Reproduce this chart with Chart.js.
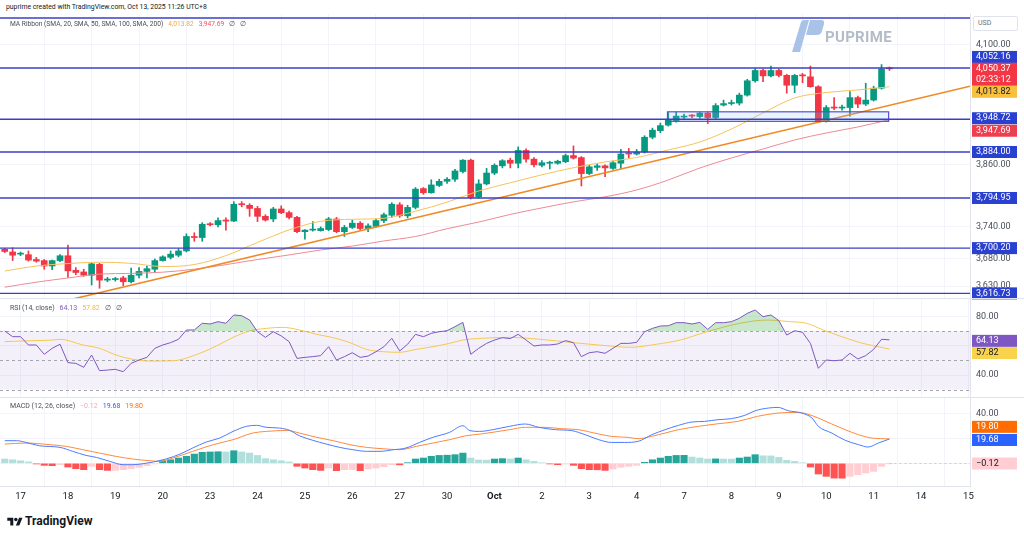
<!DOCTYPE html>
<html>
<head>
<meta charset="utf-8">
<script src="https://cdn.jsdelivr.net/npm/chart.js@4.4.1/dist/chart.umd.min.js"></script>
<style>
  body { margin:0; width:1024px; height:539px; background:#fff; position:relative; overflow:hidden;
         font-family:Roboto, "Liberation Sans", sans-serif; color:#131722; }
  canvas { position:absolute; left:0; }
  .txt { position:absolute; white-space:nowrap; }
  .leg { left:10px; font-size:7px; color:#4a4e59; }
  .leg span { margin-left:5px; }
  .sep { position:absolute; left:0; width:1024px; height:1px; background:#e0e3eb; }
</style>
</head>
<body>
<canvas id="cPrice" width="1024" height="286" style="top:14px"></canvas>
<canvas id="cRsi" width="1024" height="99" style="top:298px"></canvas>
<canvas id="cMacd" width="1024" height="111" style="top:397px"></canvas>
<div class="sep" style="top:298px"></div>
<div class="sep" style="top:397px"></div>

<div class="txt" style="left:6px;top:3px;font-size:6.85px;color:#131722">puprime created with TradingView.com, Oct 13, 2025 11:26 UTC+8</div>
<div class="txt leg" style="top:20px;font-size:6.65px">MA Ribbon (SMA, 20, SMA, 50, SMA, 100, SMA, 200)<span style="color:#f2a93b">4,013.82</span><span style="color:#f0505c">3,947.69</span><span>∅</span><span>∅</span></div>
<div class="txt leg" style="top:304px">RSI (14, close)<span style="color:#7e57c2">64.13</span><span style="color:#f2b83b">57.82</span><span>∅</span><span>∅</span></div>
<div class="txt leg" style="top:402px">MACD (12, 26, close)<span style="color:#f7a8b8">−0.12</span><span style="color:#2962ff">19.68</span><span style="color:#ff6d00">19.80</span></div>

<div class="txt" style="left:973px;top:16px;width:43px;height:13px;border:1px solid #e0e3eb;border-radius:2px;font-size:7px;color:#6a6d78;line-height:13px;text-indent:4px;background:#fff">USD</div>

<svg class="txt" style="left:790px;top:19px" width="36" height="34" viewBox="0 0 36 34">
  <path d="M2 33 L11 3 Q12 1 14 1 L19 1 L10 33 Z" fill="#a9c3e8"/>
  <path d="M20 1 L31 1 Q35 1 34 5 L32 12 Q31 16 27 16 L16 16 Z" fill="#a9c3e8"/>
</svg>
<div class="txt" style="left:825px;top:28px;font-size:15px;font-weight:bold;color:#b3bcc8;letter-spacing:0.3px">PUPRIME</div>

<svg class="txt" style="left:7px;top:516px" width="16" height="12" viewBox="0 0 36 28">
  <path d="M14 22H7V11H0V4h14v18zM28 22h-8l7.5-18h8L28 22z" fill="#131722"/>
  <circle cx="20" cy="8" r="4" fill="#131722"/>
</svg>
<div class="txt" style="left:25px;top:514px;font-size:12px;font-weight:bold;color:#131722">TradingView</div>

<script>
// ---- data (4h candles, index 0 = first candle on the left)
const dayLabels = ['17','18','19','20','23','24','25','26','27','30','Oct','2','3','4','7','8','9','10','11','14','15'];
const FIRST_DAY_CANDLE = 2;
const CANDLES_PER_DAY = 6;

const open = [3698,3693,3689,3688,3679,3677,3667,3677,3686,3659,3656,3650,3670,3641,3642,3645,3638,3650,3657,3661,
  3677,3683,3687,3695,3722,3720,3746,3744,3753,3751,3784,3781,3775,3760,3755,3774,3767,3758,3731,3734,
  3733,3735,3755,3731,3739,3747,3737,3741,3752,3762,3782,3761,3777,3813,3805,3819,3827,3831,3846,3868,
  3797,3822,3843,3857,3868,3862,3887,3870,3858,3862,3862,3865,3877,3873,3842,3854,3857,3852,3862,3882,
  3880,3884,3913,3926,3937,3946,3953,3956,3954,3961,3952,3977,3980,3981,3997,4026,4047,4036,4047,4037,
  4017,4038,4034,4014,3945,3973,3971,3972,3992,3979,3987,4011,4051];
const high = [3700,3701,3693,3695,3683,3679,3678,3688,3706,3664,3661,3672,3672,3646,3646,3648,3663,3664,3667,3680,
  3686,3695,3699,3727,3729,3748,3748,3757,3757,3788,3788,3784,3779,3763,3777,3780,3770,3760,3735,3750,
  3740,3758,3758,3743,3753,3750,3746,3755,3766,3786,3786,3781,3815,3815,3830,3831,3834,3850,3869,3870,
  3830,3852,3861,3869,3872,3894,3890,3873,3867,3866,3868,3880,3896,3875,3858,3861,3859,3866,3889,3891,
  3889,3916,3931,3941,3962,3963,3959,3958,3963,3963,3980,3987,3987,4001,4029,4051,4050,4056,4050,4039,
  4039,4041,4056,4016,3976,3992,3977,4004,3995,4021,4015,4059,4054];
const low = [3692,3677,3686,3676,3674,3661,3660,3675,3646,3651,3648,3632,3626,3638,3639,3631,3636,3645,3645,3655,
  3676,3680,3684,3693,3713,3713,3742,3740,3734,3750,3778,3760,3750,3751,3750,3765,3755,3729,3717,3732,
  3732,3733,3729,3722,3737,3734,3731,3739,3748,3758,3758,3757,3774,3802,3804,3817,3823,3827,3843,3793,
  3795,3820,3840,3853,3853,3853,3864,3855,3855,3851,3860,3863,3870,3818,3840,3848,3836,3850,3852,3872,
  3878,3882,3910,3922,3935,3943,3950,3952,3951,3940,3950,3975,3977,3977,3995,4023,4024,4034,4034,4001,
  4002,4022,4013,3942,3943,3968,3967,3955,3972,3976,3985,4009,4047];
const close = [3694,3687,3690,3678,3676,3667,3677,3686,3658,3655,3650,3671,3641,3643,3643,3638,3650,3657,3662,3677,
  3684,3689,3695,3722,3720,3745,3744,3752,3751,3783,3782,3775,3760,3753,3774,3767,3758,3731,3734,3735,
  3737,3755,3731,3739,3747,3737,3742,3752,3763,3783,3761,3777,3812,3805,3820,3827,3831,3847,3868,3796,
  3822,3843,3858,3867,3862,3887,3870,3859,3863,3863,3866,3877,3872,3842,3855,3857,3853,3863,3880,3880,
  3884,3913,3927,3936,3948,3955,3955,3955,3961,3952,3976,3980,3982,3997,4026,4047,4036,4047,4037,4017,
  4037,4036,4014,3945,3972,3971,3973,3992,3979,3987,4011,4050,4050.37];

// MA ribbon, sampled every 4 candles
const maIdx = [0,4,8,12,16,20,24,28,32,36,40,44,48,52,56,60,64,68,72,76,80,84,88,92,96,100,104,108,112];
const sma20 = [3657.7,3667,3671.5,3674,3672,3666,3669.7,3686.3,3710.8,3734.4,3750.6,3754.4,3756.3,3769.7,3787,
  3808.4,3824.2,3839.5,3853.3,3864.5,3873.2,3888,3903.6,3929.3,3961.3,3991.3,4002.3,4007.4,4013.82];
const sma50 = [3628,3637.2,3644.9,3652,3653.4,3655.6,3661.1,3669.5,3679,3687.5,3696.7,3704,3713.6,3722,3736.6,
  3749.2,3763.6,3776,3787.6,3797.2,3810.3,3829.5,3852.8,3872.3,3889.9,3907.6,3921.4,3933.3,3947.69];

// drawings
const trendIdx = [7.6, 122.2];
const trendPrice = [3603, 4015];
const levelPrices = [4155.5, 4052.16, 3948.72, 3884.00, 3794.95, 3700.20, 3616.73];
const boxIdx = [83.9, 111.9];
const boxPrice = [3944.5, 3963.5];
const priceTicks = [4100, 3860, 3740, 3680, 3630];

// RSI
const rsi = [70.2,66.3,66.3,60.6,60.6,54.2,58.3,61.1,48.5,48.0,45.3,53.7,43.0,43.4,43.9,42.3,48.0,50.3,52.1,58.3,
  60.6,62.2,64.5,70.9,70.9,75.5,75.0,76.6,75.5,81.2,80.7,77.7,69.7,65.8,69.7,66.8,62.9,51.4,52.1,52.6,
  53.3,59.4,50.3,52.6,55.3,52.1,53.0,56.0,59.4,65.2,56.5,61.1,67.9,66.3,68.6,69.7,70.4,73.2,76.1,54.2,
  58.3,61.7,64.0,65.6,65.0,67.9,64.0,59.9,60.6,60.6,61.3,63.6,62.2,52.6,55.3,56.0,54.9,58.3,61.7,61.7,
  62.4,69.7,72.0,73.6,73.8,75.9,75.9,75.0,76.1,71.3,75.9,75.9,76.6,78.9,82.3,84.6,80.0,81.2,77.3,67.4,
  70.4,69.3,61.7,44.6,50.3,49.8,50.3,54.9,51.0,53.3,57.6,64.5,64.13];
const rsiMaIdx = [0,3.6,6.1,7,9.9,12,14.1,16.2,18.4,21.3,24.7,26.8,28.9,31,33.1,35.2,37.3,39.5,41.6,43.7,45.8,47.9,
  50,52.1,54.2,56.3,58,60.5,63.9,67.8,72,76.2,79.2,82.5,85.5,88.9,93.1,96.5,99.4,101.5,103.6,105.7,108.3,112];
const rsiMaVal = [62.9,63.6,64.0,64.5,60.6,58.3,53.7,50.8,49.6,49.8,54.9,59.9,65.8,70.2,72.0,72.7,70.9,67.9,65.6,62.2,
  57.6,56.0,55.6,57.6,59.4,61.7,64.0,65.2,65.8,64.5,62.2,60.1,59.0,61.1,64.0,69.7,75.5,77.7,76.6,75.5,70.9,66.8,
  62.2,57.82];
const rsiBands = [70, 50, 30];
const rsiTicks = [80, 60, 40];

// MACD
const macdIdx = [0,1.5,2.7,4.4,7,8.6,10.3,11.6,13.3,15,16.2,17.5,18.8,20.5,22.2,23.8,25.5,27.2,28.9,30.6,31.9,33.1,
  34.8,36.1,37.3,39,40.7,42.4,44.1,45.8,47.5,49.2,50.8,52.5,54.2,56.3,58,58.9,60.1,61.8,63.9,65.9,67.6,69.7,71.8,
  73.5,75.2,76.8,78.5,80.2,81.9,83.6,85.3,87,88.6,90.3,92,93.7,95,96.7,97.9,99.2,100.9,102.2,103,104.7,106.4,
  108.1,109.3,110.6,112];
const macdVal = [18.3,18.3,16.9,14.2,12.9,9.7,6.4,4.8,1.6,-1.1,-1.1,-0.3,1.1,3.7,7.5,12.4,17.2,20.4,25.8,29.9,30.7,
  29.1,28.5,26.6,22.3,18.6,15.6,12.9,11.0,9.7,9.7,11.0,12.4,16.9,21.0,25.0,30.4,26.4,25.8,27.2,29.9,31.8,29.1,27.2,
  26.4,23.1,19.1,16.9,16.9,17.8,23.1,27.2,30.7,33.4,33.9,35.3,36.1,38.8,42.5,44.7,45.2,42.5,40.6,36.6,29.9,24.5,
  18.6,15.1,13.2,16.4,19.68];
const signalIdx = [0,2.7,5.7,7.8,9.9,12,14.1,16.2,18.4,19.6,21.3,23.8,26.4,28.9,31.4,33.1,35.7,37.3,39.5,41.6,43.7,
  45.8,47.9,50,52.1,54.2,56.3,58.4,60.5,63.9,65.9,68.4,70.5,72.6,75.2,76.8,78.9,80.2,81.9,83.6,85.3,87.8,90.3,
  92.8,95.3,97.9,100.4,101.6,103,104.7,106.4,108.1,109.8,112];
const signalVal = [15.6,16.4,15.1,13.7,11.0,8.3,5.6,3.5,2.1,1.6,4.3,9.7,15.1,19.1,24.5,25.8,26.6,24.5,21.0,18.3,15.1,
  12.9,11.8,11.0,13.7,16.4,19.1,22.3,23.9,27.2,29.1,29.1,28.0,27.2,23.7,21.8,21.0,19.9,21.8,24.5,27.2,29.9,32.0,
  33.9,38.0,40.6,41.2,39.8,36.6,31.8,27.2,23.1,20.4,19.80];
const hist = [3.5,2.9,2.1,1.1,-0.5,-1.6,-1.9,-1.1,-3.0,-4.3,-5.1,-2.4,-5.1,-5.7,-5.7,-5.1,-4.3,-3.2,-1.9,-0.5,
  2.1,2.9,4.3,5.7,7.5,8.9,9.2,9.4,9.2,10.2,9.2,8.3,6.4,3.8,2.9,2.1,1.1,-2.4,-3.8,-5.1,
  -5.7,-3.8,-5.9,-5.1,-5.0,-5.9,-4.6,-3.8,-2.7,-1.1,-1.2,0.5,3.5,4.3,5.7,6.4,6.6,7.0,8.3,4.3,
  2.7,2.6,3.5,3.8,3.5,4.3,2.9,1.6,0.5,-0.5,-1.1,-0.5,-1.6,-4.3,-5.1,-5.2,-5.7,-4.6,-3.2,-2.4,
  -1.6,0.8,2.9,4.3,5.7,6.4,6.5,5.1,4.3,3.5,3.6,3.5,3.4,4.3,5.1,7.0,6.1,6.0,4.8,2.4,
  1.6,0.5,-3.0,-8.6,-10.5,-11.9,-12.0,-10.5,-9.2,-7.8,-6.5,-2.4,-0.12];
const macdTicks = [40, 20, 0];

// ---- layout
const FONT = 'Roboto, "Liberation Sans", sans-serif';
const X_MIN = -0.6, X_MAX = 122.2;
const AXIS_W = 54;
const UP = '#089981', DOWN = '#F23645';
const LEVEL = '#3b3fc6', LEVEL_TAG = '#2a40cf';

const fmt2 = v => v.toLocaleString('en-US', {minimumFractionDigits: 2, maximumFractionDigits: 2});
const pts = (xs, ys) => xs.map((x, i) => ({x: x, y: ys[i]}));

function xScale(showLabels) {
  return {
    type: 'linear', min: X_MIN, max: X_MAX, offset: false,
    afterBuildTicks: s => { s.ticks = dayLabels.map((_, i) => ({value: FIRST_DAY_CANDLE + CANDLES_PER_DAY * i})); },
    afterFit: s => { s.height = showLabels ? 22 : 0; s.paddingLeft = 0; s.paddingRight = 0; },
    grid: {color: '#f2f4f9', drawTicks: false},
    border: {display: showLabels, color: '#e0e3eb'},
    ticks: {
      display: showLabels, autoSkip: false, maxRotation: 0, padding: 5, color: '#131722',
      font: c => ({family: FONT, size: 9.5, weight: dayLabels[c.index] === 'Oct' ? 'bold' : 'normal'}),
      callback: (v, i) => dayLabels[i]
    }
  };
}

function yTicks(list, hidden) {
  return {
    // keep the plot area flush with the canvas: no label padding above or below
    afterFit: s => { s.width = AXIS_W; s.paddingTop = 0; s.paddingBottom = 0; },
    afterBuildTicks: s => { s.ticks = list.map(v => ({value: v})); },
    grid: {color: '#f2f4f9', drawTicks: false},
    border: {color: '#e0e3eb'},
    ticks: {color: '#4a4e59', padding: 6, font: {family: FONT, size: 9},
      callback: v => hidden.includes(v) ? '' : fmt2(v)}
  };
}

function drawTag(chart, yPix, text, bg, fg, sub) {
  const ctx = chart.ctx, left = chart.chartArea.right + 2;
  const h = sub ? 23 : 12;
  ctx.save();
  ctx.fillStyle = bg;
  ctx.fillRect(left, yPix - 6, 45, h);
  ctx.fillStyle = fg;
  ctx.font = '9px ' + FONT;
  ctx.textBaseline = 'middle';
  ctx.textAlign = 'left';
  ctx.fillText(text, left + 4, yPix);
  if (sub) ctx.fillText(sub, left + 4, yPix + 11);
  ctx.restore();
}

function hLine(chart, yPix, color, width, dash) {
  const {ctx, chartArea: a} = chart;
  ctx.save();
  ctx.strokeStyle = color; ctx.lineWidth = width;
  if (dash) ctx.setLineDash(dash);
  ctx.beginPath(); ctx.moveTo(a.left, yPix); ctx.lineTo(a.right, yPix); ctx.stroke();
  ctx.restore();
}

const baseOpts = {
  responsive: false, animation: false, events: [],
  plugins: {legend: {display: false}, tooltip: {enabled: false}}
};

// ---- price panel
const candleColor = open.map((o, i) => close[i] >= o ? UP : DOWN);

const pricePlugin = {
  id: 'priceDrawings',
  afterDatasetsDraw(chart) {
    const {ctx, scales: {x, y}} = chart;
    const x0 = x.getPixelForValue(boxIdx[0]), x1 = x.getPixelForValue(boxIdx[1]);
    const y0 = y.getPixelForValue(boxPrice[1]), y1 = y.getPixelForValue(boxPrice[0]);
    ctx.save();
    ctx.fillStyle = 'rgba(120,190,240,0.16)';
    ctx.fillRect(x0, y0, x1 - x0, y1 - y0);
    ctx.strokeStyle = '#5b4fd0'; ctx.lineWidth = 1.2;
    ctx.strokeRect(x0, y0, x1 - x0, y1 - y0);
    ctx.restore();
    levelPrices.forEach(p => hLine(chart, y.getPixelForValue(p), LEVEL, 1.4));
  },
  afterDraw(chart) {
    const y = chart.scales.y;
    const last = close.length - 1;
    levelPrices.slice(1).forEach(p => {
      const nudge = p === levelPrices[1] ? -11 : (p === levelPrices[2] ? -1 : 0);
      drawTag(chart, y.getPixelForValue(p) + nudge, fmt2(p), LEVEL_TAG, '#fff');
    });
    drawTag(chart, y.getPixelForValue(close[last]), fmt2(close[last]), '#F23645', '#fff', '02:33:12');
    drawTag(chart, y.getPixelForValue(sma20[sma20.length - 1]) + 5, fmt2(sma20[sma20.length - 1]), '#F7C13E', '#131722');
    drawTag(chart, y.getPixelForValue(sma50[sma50.length - 1]) + 11, fmt2(sma50[sma50.length - 1]), '#EE3F4E', '#fff');
  }
};

new Chart(document.getElementById('cPrice'), {
  type: 'bar',
  data: {datasets: [
    {type: 'line', data: pts(trendIdx, trendPrice), borderColor: '#f08a24', borderWidth: 1.6, pointRadius: 0},
    {type: 'line', data: pts(maIdx, sma20), borderColor: '#f6c35a', borderWidth: 1, pointRadius: 0, cubicInterpolationMode: 'monotone'},
    {type: 'line', data: pts(maIdx, sma50), borderColor: '#ee8a94', borderWidth: 1, pointRadius: 0, cubicInterpolationMode: 'monotone'},
    {data: open.map((o, i) => ({x: i, y: [o, close[i]]})), backgroundColor: candleColor, barThickness: 6, minBarLength: 1, grouped: false},
    {data: open.map((o, i) => ({x: i, y: [low[i], high[i]]})), backgroundColor: candleColor, barThickness: 1, grouped: false}
  ]},
  options: Object.assign({}, baseOpts, {
    layout: {padding: {bottom: 2}},
    scales: {
      x: xScale(false),
      y: Object.assign({type: 'logarithmic', position: 'right', min: 3608.3, max: 4163.9}, yTicks(priceTicks, []))
    }
  }),
  plugins: [pricePlugin]
});

// ---- RSI panel
const rsiPlugin = {
  id: 'rsiBands',
  beforeDatasetsDraw(chart) {
    const {ctx, chartArea: a, scales: {y}} = chart;
    const yTop = y.getPixelForValue(rsiBands[0]), yBot = y.getPixelForValue(rsiBands[2]);
    ctx.save();
    ctx.fillStyle = 'rgba(126,87,194,0.09)';
    ctx.fillRect(a.left, yTop, a.right - a.left, yBot - yTop);
    ctx.restore();
    rsiBands.forEach(v => hLine(chart, Math.round(y.getPixelForValue(v)) + 0.5, '#a3a6af', 1, [3, 3]));
  },
  afterDraw(chart) {
    const y = chart.scales.y;
    drawTag(chart, y.getPixelForValue(rsi[rsi.length - 1]) + 1, rsi[rsi.length - 1].toFixed(2), '#7E57C2', '#fff');
    drawTag(chart, y.getPixelForValue(rsiMaVal[rsiMaVal.length - 1]) + 4, rsiMaVal[rsiMaVal.length - 1].toFixed(2), '#F9D34C', '#131722');
  }
};

new Chart(document.getElementById('cRsi'), {
  type: 'line',
  data: {datasets: [
    {data: rsi.map((v, i) => ({x: i, y: v})), borderColor: '#7E57C2', borderWidth: 1, pointRadius: 0,
     fill: {target: {value: 70}, above: 'rgba(76,175,80,0.3)', below: 'rgba(0,0,0,0)'}},
    {data: pts(rsiMaIdx, rsiMaVal), borderColor: '#f5c84e', borderWidth: 1, pointRadius: 0, cubicInterpolationMode: 'monotone'}
  ]},
  options: Object.assign({}, baseOpts, {
    scales: {
      x: xScale(false),
      y: Object.assign({type: 'linear', position: 'right', min: 24.92, max: 92.83}, yTicks(rsiTicks, [60]))
    }
  }),
  plugins: [rsiPlugin]
});

// ---- MACD panel
const histColor = hist.map((v, i) => {
  const prev = i > 0 ? hist[i - 1] : v;
  if (v >= 0) return v > prev ? '#26A69A' : '#B2DFDB';
  return v < prev ? '#FF5252' : '#FFCDD2';
});

const macdPlugin = {
  id: 'macdTags',
  afterDraw(chart) {
    const {ctx, chartArea: a, scales: {x, y}} = chart;
    const lastH = hist[hist.length - 1];
    ctx.save();
    ctx.strokeStyle = '#f7b9c4'; ctx.setLineDash([2, 3]); ctx.lineWidth = 1;
    const yy = Math.round(y.getPixelForValue(lastH)) + 0.5;
    ctx.beginPath(); ctx.moveTo(x.getPixelForValue(hist.length - 1), yy); ctx.lineTo(a.right, yy); ctx.stroke();
    ctx.restore();
    drawTag(chart, y.getPixelForValue(signalVal[signalVal.length - 1]) - 12, signalVal[signalVal.length - 1].toFixed(2), '#FF6D00', '#fff');
    drawTag(chart, y.getPixelForValue(macdVal[macdVal.length - 1]) + 1, macdVal[macdVal.length - 1].toFixed(2), '#2962FF', '#fff');
    drawTag(chart, y.getPixelForValue(lastH), '\u22120.12', '#FFCDD2', '#131722');
  }
};

new Chart(document.getElementById('cMacd'), {
  type: 'bar',
  data: {datasets: [
    {type: 'line', data: pts(macdIdx, macdVal), borderColor: '#4d7bff', borderWidth: 1, pointRadius: 0, cubicInterpolationMode: 'monotone'},
    {type: 'line', data: pts(signalIdx, signalVal), borderColor: '#ff8a3d', borderWidth: 1, pointRadius: 0, cubicInterpolationMode: 'monotone'},
    {data: hist.map((v, i) => ({x: i, y: v})), backgroundColor: histColor, barThickness: 6.5, grouped: false}
  ]},
  options: Object.assign({}, baseOpts, {
    scales: {
      x: xScale(true),
      y: Object.assign({type: 'linear', position: 'right', min: -18.3, max: 53.6}, yTicks(macdTicks, [20, 0]))
    }
  }),
  plugins: [macdPlugin]
});
</script>
</body>
</html>
